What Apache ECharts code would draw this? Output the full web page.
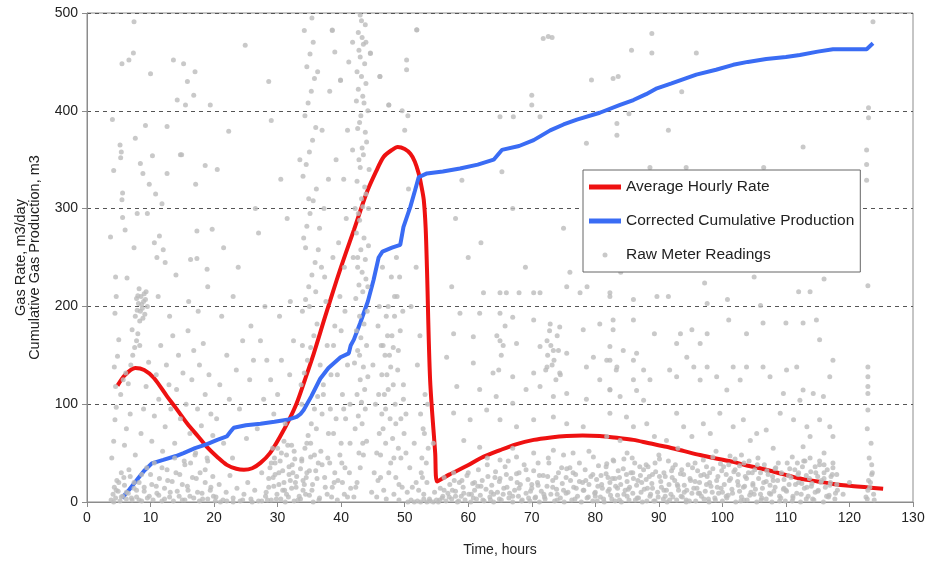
<!DOCTYPE html>
<html>
<head>
    <meta charset="utf-8">
    <title>gas rate</title>
    <script src="https://cdn.jsdelivr.net/npm/echarts@6/dist/echarts.min.js"></script>
    <style>
        html, body { margin: 0; padding: 0; background: #fff; }
        #main { width: 928px; height: 561px; }
    </style>
</head>
<body>
    <div id="main"></div>
<script>
    // axis ticks
    var xTicks = [0, 130, 10];
    var yTicks = [0, 500, 100];

    // average hourly rate (hours, m3/day)
    var rateCurve = [[4.8,119],[6,130],[7.6,137],[9,135],[10.5,127],[12.6,108],[14,96],[15.8,80],[17.5,67],[18.9,56],
        [20.5,46],[22,38],[23.5,34],[24.7,33],[26,34.5],[27.3,40],[28.8,50],[30.4,67],[31.8,84],[33,101],[34.3,125],
        [35.7,152],[37.5,190],[39.3,227],[40.7,254],[42,278],[44,316],[45.5,338],[46.7,353],[48,360],[48.9,363],[50,361],
        [50.9,356],[51.6,348],[52.2,336],[52.6,324],[53,309],[53.3,280],[53.5,240],[54,125],[54.8,50],[55.1,21],[57,28],
        [59.8,37],[62,45],[65,53],[67.5,59],[70.3,63.5],[73,66],[75.5,67.5],[78,68],[80.7,67.5],[83,66],[86,63.5],[88.5,60],
        [91.2,56.5],[94,52],[96.5,48],[99,44.5],[101.7,41],[104,37],[106.9,33],[109.5,28.5],[112.2,24],[115,21],[117.4,18.5],
        [120,16.5],[122.7,15],[125.3,13.5]];

    // corrected cumulative production (hours, m3)
    var cumCurve = [[5.5,4],[6.7,13],[7.9,23],[9,32],[10.2,39.5],[12,43],[14,47],[15.2,50],[17,55],[18.8,59],[20.5,63.5],
        [22,67],[22.6,72],[23.1,76],[25,78.5],[27.3,80],[29.5,82],[31.5,84],[33,87],[33.6,90],[34.1,94],[35.3,108],[36.7,126],
        [38,137],[39.9,148],[41.2,152],[41.5,160],[42,166],[43,183],[44.2,205],[45.1,227],[45.9,250],[46.5,256],[48,260],
        [49.3,263],[49.8,281],[50.9,302],[51.6,318],[52.2,332],[53.5,336],[56,338],[58.7,341],[61.5,345],[64,350],[65.3,360],
        [68,364],[70.3,370],[72.9,380],[75,386],[77.1,391],[80.7,398],[83.9,406],[86,411],[88,417],[89.7,423],[92,428],
        [95.9,437],[99,442],[101.7,447],[104,450],[106.9,453],[110,455],[112.2,457],[115,460.5],[117.4,463],[120,463],
        [122.7,463],[123.7,469]];

    // raw meter readings
    var rawEarly = [[3.8,2],[4.1,8],[4.3,15],[4.5,4],[4.7,22],[4.9,11],[5.2,1],[5.4,30],[5.6,6],[5.9,17],[6.2,3],[6.5,9],
        [6.8,26],[7.1,2],[7.4,14],[7.8,5],[8.2,20],[8.6,1],[9,11],[9.5,4],[10,28],[10.4,2],[10.9,16],[11.3,7],[11.8,35],
        [12.2,3],[12.7,22],[13.1,10],[13.6,1],[14,30],[14.5,6],[15,18],[15.4,2],[15.9,12],[16.3,40],[16.8,4],[17.2,24],
        [17.7,1],[18.1,9],[18.6,33],[19,3],[19.5,15],[19.9,6],
        [3.9,45],[4.2,62],[4.4,84],[4.6,97],[4.5,118],[4.3,138],[4.8,149],[5,166],[4.4,193],[4.6,210],[5.3,110],[5.7,125],
        [6.1,132],[6.5,121],[6.9,140],[7.2,150],[7.5,158],[7.8,165],[8,172],[8.3,160],[7.1,176],[6.8,90],[6.2,75],[5.9,58],
        [7.6,48],[8.5,70],[8.9,95],[9.3,118],[9.7,143],[10.2,62],[10.6,88],[10.9,130],[11.3,105],[11.6,160],[11.9,52],
        [12.3,77],[12.5,140],[12.9,120],[13.2,95],[13.5,170],[13.8,60],[14.1,115],[14.4,150],[14.7,85],[15.1,132],[15.3,42],
        [15.6,100],[15.9,175],[16.2,70],[16.5,125],[16.8,155],[17.1,50],[17.4,95],[17.7,140],[18,78],[18.3,162],[18.6,110],
        [18.9,45],[19.2,130],[19.5,90],[19.8,68],
        [7.6,190],[7.9,196],[8.1,203],[8.3,185],[8.5,210],[8.7,198],[8.9,205],[9.1,192],[9.3,215],[8.2,218],[8.8,188],
        [9.5,200],[7.8,208],[9,213],[8.4,195],[8.6,202],[9.2,207],[8,211],
        [4,391],[4.2,339],[3.7,271],[4.5,230],[5.3,352],[5.4,358],[5.2,365],[5.5,448],[5.6,316],[5.5,309],[5.6,291],[6,278],
        [6.3,229],[6.6,452],[7.3,459],[7.4,491],[7.6,372],[7.4,260],[7.9,295],[8.4,346],[8.8,336],[9.2,385],[9.5,295],
        [9.8,325],[10,438],[10.3,354],[10.6,265],[10.8,315],[11,250],[11.4,272],[11.8,305],[12,258],[12.6,384],[12.6,336],
        [13.6,452],[14.2,411],[14.7,355],[14.9,355],[15.2,448],[15.5,406],[15.8,430],[16.3,248],[16.8,416],[17,440],
        [17.1,325],[17.3,277],[17.3,249],[18.6,344],[18.9,238],[19.4,406],[19.7,279],[14,232],[12.3,245],[16,205],[13,190],
        [11.2,210],[17.5,195],[19,220],
        [20.3,5],[20.8,18],[21.4,2],[21.9,10],[22.5,27],[23,4],[23.6,14],[24.1,1],[24.7,8],[25.3,20],[25.8,3],[26.4,12],
        [27,1],[27.5,30],[28.1,6],[28.6,15],[29,2],[29.3,25],[29.6,40],[29.9,8],[30.2,18],[30.5,3],[30.8,32],[31.1,12],
        [31.4,48],[31.7,5],[32,22],[32.3,38],[32.6,1],[32.9,15],[30,55],[31,62],[32.2,58],[29.5,45],[28.8,35],[31.8,28],
        [32.7,44],
        [20.4,85],[20.9,120],[21.5,60],[22,150],[22.4,105],[22.9,45],[23.5,135],[24,95],[24.5,165],[25.1,65],[25.6,125],
        [26.2,145],[26.8,75],[27.3,165],[27.8,105],[28.3,145],[28.9,125],[29.4,90],[30,110],[30.6,145],[31.2,80],[31.9,130],
        [32.5,165],[21.2,190],[23,210],[25.8,180],[28,200],[30.3,190],[32,205],
        [22.3,379],[24.9,467],[28.6,430],[21.5,260],[26.5,300],[23.8,240],[30.5,330],[27,275],[31.5,290],[20.5,340],[29,390]];

    var rawMid = [[33.6,3],[34,12],[34.5,25],[35,7],[35.5,18],[36,32],[36.5,2],[33.8,42],[34.3,55],[34.8,68],[35.3,80],
        [35.8,95],[36.3,108],[33.7,120],[34.2,132],[34.7,145],[35.2,158],[35.7,170],[36.2,182],[33.9,195],[34.4,207],
        [34.9,220],[35.4,232],[35.9,245],[36.4,258],[34.1,270],[34.6,282],[35.1,295],[35.6,308],[36.1,320],[34,333],
        [34.5,345],[35,358],[35.5,370],[36,383],[34.3,395],[34.8,408],[35.3,420],[35.8,433],[34.6,445],[35.1,458],
        [35.6,470],[34.2,482],[35.4,495],[36.8,52],[36.9,240],[37.3,300],[37.8,160],[38.2,420],[38.6,482],[38.8,70],
        [39.2,350],[39.6,265],[39.9,431],[40.2,110],[40.6,195],[41,380],[41.3,30],[37.5,15],[38.5,5],[39.5,22],[40.5,8],
        [41.5,14],[37,90],[37.6,205],[38,330],[38.4,130],[39,180],[40,60],[40.8,290],[41.2,450],
        [33.8,100],[34.6,30],[35.2,60],[36.1,75],[36.7,140],[37.2,110],[37.9,45],[38.3,95],[38.9,20],[39.4,130],[40.1,40],
        [40.7,85],[41.4,100],[33.9,160],[35,200],[36,215],[37.4,230],[38.7,250],[39.8,210],[40.5,240],[34.4,260],[36.6,280],
        [33.5,350],[34.9,310],[36.3,440],[37,380],[39,460],[40.4,330],
        [42,5],[42.5,20],[43,35],[43.5,48],[44,62],[42.2,75],[42.7,88],[43.2,102],[43.7,115],[44.2,128],[42.1,142],
        [42.6,155],[43.1,168],[43.6,182],[44.1,195],[42.3,208],[42.8,222],[43.3,235],[43.8,248],[44.3,262],[42.4,275],
        [42.9,288],[43.4,302],[43.9,315],[42.5,328],[43,342],[43.5,355],[44,368],[42.6,382],[43.1,395],[43.6,408],
        [42.7,422],[43.2,435],[43.7,448],[42.8,462],[43.3,475],[43.8,488],[43,498],[42.4,410],[43.9,470],[42.2,300],
        [44.4,340],[44.6,459],[42.9,150],[43.4,60],[42.6,250],
        [44.8,10],[45.2,30],[45.6,50],[46,70],[46.4,90],[46.8,110],[47.2,130],[47.6,150],[48,170],[48.4,190],[48.8,210],
        [49.2,230],[49.6,15],[45,140],[45.4,100],[45.8,180],[46.2,25],[46.6,160],[47,60],[47.4,200],[47.8,40],[48.2,120],
        [48.6,80],[49,155],[49.4,45],[49.8,105],[46.1,435],[47.5,406],[46.5,240],[47.9,230],[48.7,250],[45.6,5],[47.1,3],
        [48.3,8],[49.1,2],
        [50.3,452],[50.3,442],[51.9,483],[50,380],[50.5,395],[49.6,400],[50.6,320],[51,200],[50.2,90],[51.5,60],[52,140],
        [52.6,30],[52.9,75],[53.2,110],[53,8],[52.7,45],[53.5,20],[53.9,3],[51.2,15],[50.8,35],[51.8,240],[52.4,170],
        [54.5,60],[54.7,10]];

    var rawLate = [[55.5,2],[56.2,12],[57,5],[57.8,22],[58.5,1],[59.3,9],[60,30],[60.8,4],[61.5,16],[62.3,2],[63,38],
        [63.6,10],[64.2,25],[64.9,3],[65.6,14],[66.3,42],[67,6],[67.7,20],[68.4,1],[69.1,33],[69.8,11],[70.5,4],[71.2,27],
        [71.9,8],[72.6,45],[73.3,15],[74,2],[74.7,35],[75.4,9],[76.1,22],[76.8,3],[77.5,40],[78.2,12],[78.9,5],[79.6,28],
        [80.3,1],[81,18],[81.7,36],[82.4,7],[83.1,24],[83.8,2],[84.5,44],[85.2,13],[85.9,30],[86.6,4],[87.3,20],[88,38],
        [88.7,8],[89.4,1],[90.1,26],[90.8,12],[91.5,42],[92.2,5],[92.9,18],[93.6,33],[94.3,2],[95,22],[95.7,40],[96.4,9],
        [97.1,28],[97.8,3],[98.5,46],[99.2,15],[99.9,32],[100.6,6],[101.3,24],[102,44],[102.7,11],[103.4,2],[104.1,30],
        [104.8,17],[105.5,38],[106.2,4],[106.9,21],[107.6,8],[108.3,34],[109,1],[109.7,14],[110.4,27],[111.1,6],[111.8,40],
        [112.5,19],[113.2,3],[113.9,31],[114.6,10],[115.3,42],[116,24],[116.7,5],[117.4,35],[118.1,12],[122.8,3],[123.2,15],
        [123.5,28],[123.8,8],
        [58,6],[61,20],[64,8],[66,28],[68,14],[70,18],[72,5],[73.8,25],[75,12],[76.5,30],[78,20],[80,10],[82,25],[83.5,14],
        [85,6],[86,24],[87,36],[88.2,14],[89,28],[91,6],[92,32],[94,10],[96,14],[97.5,36],[98,20],[100,10],[101,38],
        [102.5,28],[103.5,16],[105,8],[106,30],[108,22],[110,12],[112,30],[113,42],[114,16],[115,26],[116,38],[117,20],
        [118,28],[123,22],[123.5,38],
        [57.4,220],[62.4,214],[65,214],[66,214],[68,214],[70.3,214],[71.3,214],[75.5,220],[77.6,214],[78.7,220],[82.3,214],
        [58.7,193],[61.8,193],[65,193],[67,189],[70.3,186],[72.9,182],[74.4,179],[78.1,176],[80.7,182],[82.8,176],
        [57.7,172],[60.8,169],[65,165],[67.6,162],[71.3,159],[72.4,165],[73.4,155],[75.5,152],[79.7,148],[81.8,145],
        [56.6,148],[60.8,142],[63.9,132],[67,128],[70.3,132],[72.4,138],[74.4,132],[78.6,138],[80.7,125],[83.3,135],
        [58.2,118],[61.8,115],[64.4,108],[67,101],[69.1,115],[71.3,118],[73.4,108],[75.5,111],[78.6,105],[82.3,115],
        [57.7,91],[60.3,84],[62.9,94],[65,84],[67.6,77],[70.3,84],[73.4,87],[75.5,80],[78.1,77],
        [59.3,63],[61.8,56],[65,43],[67.6,46],[70.3,50],[73.4,53],[76.5,50],[79.7,46],[82.8,43],
        [72.5,150],[73,160],[73.5,145],[74,170],[74.5,130],[72.8,175],[73.8,125],[74.2,155],[72.2,135],[73.2,140],
        [64.5,170],[65.2,150],[65.8,180],[64.8,135],[65.5,160],
        [82.3,210],[86,207],[89.7,210],[91.5,210],[97.2,224],[97.6,203],[100.8,207],[106,201],[112,215],[113.8,215],
        [122.9,221],[82.8,186],[86,186],[89.3,172],[93.4,172],[95.2,176],[97.6,172],[101,186],[103.8,172],[106.4,183],
        [110,183],[112.7,183],[114.8,186],[115.3,166],[82.3,159],[84.4,155],[86.5,152],[92.8,162],[96.5,162],
        [82.3,145],[83.4,138],[86,145],[87.6,135],[88.6,125],[86,125],[86.5,114],[87.6,104],[91.7,135],[92.8,128],
        [94.4,148],[95.5,138],[96.5,124.7],[97.6,138],[99.1,128],[100.7,114.5],[101.7,138],[102.8,124.7],[103.8,138],
        [106.4,138],[107.5,128],[110.1,135],[111.7,138],[112.7,114.5],[114.3,111],[115.9,108],[116.9,128],[117.4,145],
        [122.9,138],[122.9,128],[122.9,118],[122.9,111],[109.6,111],[112.2,104],[82.3,114.5],[83.9,108],
        [82.3,90.7],[84.9,87],[86,77],[88.1,80],[89.3,67],[92.8,90.7],[93.9,77],[97,80],[98.1,70],[99.6,90.7],[101.7,77],
        [103.3,84],[105.4,70],[106.9,73.5],[109.1,90.7],[111.2,84],[113.3,77],[115.3,84],[116.9,77],[117.4,67],[122.9,94],
        [81.8,67],[83.9,63],[91.2,63],[95.2,67],[104.4,63],[112.7,56.6],[113.8,67],
        [85,50],[90,48],[93,55],[99,52],[103,48],[108,55],[111,46],[116,50],[120,20],[119,8],
        [71.8,474],[73.2,475],[72.6,476],[85.7,462],[88.9,479],[88.9,459],[95.9,459],[83.6,435],[93.6,419.5],[91.5,380],
        [83.4,387],[83.4,375],[85.3,397],[112.7,363],[122.7,360],[122.7,345],[122.7,329],[123,403],[123,393],[123.7,491],
        [88.6,342],[94.3,342],[106.5,342],[79.4,431.5],[82.8,433],[70,416],[70,406],[78.6,366.7],[65,394],[67.1,394],
        [71.3,394],[65.3,337.7],[59,329],[51.9,482.6],[46.1,435],[44.6,458.7],[39.9,431.5],[38.6,482.6],[47.5,406],
        [58,290],[62,265],[67,300],[75,280],[80,255],[87,270],[90,300],[96,260],[100,290],[104,270],[108,310],[113,265],
        [118,290],[121,250],[60,250],[84,235],[92,240],[105,230],[110,240],[116,228],[69,240],[76,235]];

    // extra readings in the crowded low band and the dense columns
    var rawBand = [[55.3,0],[55.6,14],[55.9,4],[56.2,25],[56.5,1],[56.8,9],[57.1,18],[57.4,3],[57.7,30],[58,11],[58.3,0],
        [58.6,20],[58.9,6],[59.2,15],[59.5,2],[59.8,27],[60.1,8],[60.4,0],[60.7,19],[61,12],[61.3,3],[61.6,33],[61.9,7],
        [62.2,22],[62.5,1],[62.8,13],[63.1,26],[63.4,5],[63.7,17],[64,0],[64.3,31],[64.6,10],[64.9,21],[65.2,2],[65.5,8],
        [65.8,36],[66.1,15],[66.4,4],[66.7,24],[67,0],[67.3,12],[67.6,29],[67.9,6],[68.2,18],[68.5,2],[68.8,38],[69.1,9],
        [69.4,23],[69.7,1],[70,14],[70.3,32],[70.6,5],[70.9,20],[71.2,0],[71.5,11],[71.8,27],[72.1,3],[72.4,16],[72.7,40],
        [73,8],[73.3,22],[73.6,1],[73.9,13],[74.2,30],[74.5,4],[74.8,19],[75.1,0],[75.4,25],[75.7,10],[76,35],[76.3,2],
        [76.6,15],[76.9,28],[77.2,6],[77.5,21],[77.8,0],[78.1,12],[78.4,33],[78.7,4],[79,18],[79.3,26],[79.6,1],[79.9,9],
        [80.2,23],[80.5,37],[80.8,5],[81.1,14],[81.4,0],[81.7,29],[82,11],[82.3,20],[82.6,3],[82.9,42],[83.2,16],[83.5,7],
        [83.8,25],[84.1,0],[84.4,34],[84.7,12],[85,21],[85.3,2],[85.6,30],[85.9,9],[86.2,40],[86.5,17],[86.8,4],[87.1,27],
        [87.4,0],[87.7,13],[88,23],[88.3,36],[88.6,6],[88.9,19],[89.2,1],[89.5,31],[89.8,10],[90.1,44],[90.4,15],[90.7,3],
        [91,26],[91.3,0],[91.6,18],[91.9,8],[92.2,35],[92.5,22],[92.8,2],[93.1,12],[93.4,29],[93.7,5],[94,17],[94.3,0],
        [94.6,38],[94.9,24],[95.2,9],[95.5,14],[95.8,1],[96.1,32],[96.4,20],[96.7,6],[97,43],[97.3,11],[97.6,26],[97.9,0],
        [98.2,16],[98.5,34],[98.8,4],[99.1,22],[99.4,9],[99.7,39],[100,1],[100.3,18],[100.6,28],[100.9,7],[101.2,47],
        [101.5,13],[101.8,31],[102.1,0],[102.4,21],[102.7,37],[103,5],[103.3,15],[103.6,26],[103.9,2],[104.2,42],[104.5,10],
        [104.8,19],[105.1,33],[105.4,0],[105.7,24],[106,8],[106.3,14],[106.6,38],[106.9,3],[107.2,28],[107.5,17],[107.8,0],
        [108.1,11],[108.4,35],[108.7,22],[109,6],[109.3,30],[109.6,13],[109.9,1],[110.2,40],[110.5,18],[110.8,25],[111.1,4],
        [111.4,33],[111.7,9],[112,20],[112.3,0],[112.6,36],[112.9,14],[113.2,27],[113.5,6],[113.8,45],[114.1,19],[114.4,2],
        [114.7,30],[115,11],[115.3,38],[115.6,22],[115.9,0],[116.2,15],[116.5,33],[116.8,7],[117.1,26],[117.4,40],[117.7,3],
        [118,18],
        [80,6],[80.4,16],[80.9,27],[81.3,3],[81.8,39],[82.2,13],[82.7,24],[83.1,1],[83.6,32],[84,18],[84.5,8],[84.9,28],
        [85.4,15],[85.8,45],[86.3,2],[86.7,22],[87.2,10],[87.6,33],[88.1,1],[88.5,26],[89,14],[89.4,40],[89.9,5],[90.3,21],
        [90.8,30],[91.2,12],[91.7,2],[92.1,25],[92.6,38],[93,16],[93.5,6],[93.9,28],[94.4,12],[94.8,1],[95.3,35],[95.7,21],
        [96.2,9],[96.6,27],[97.1,3],[97.5,18],[98,30],[98.4,10],[98.9,2],[99.3,26],[99.8,14],[100.2,36],[100.7,4],[101.1,22],
        [101.6,9],[102,33],[102.5,17],[102.9,1],[103.4,40],[103.8,24],[104.3,7],[104.7,30],[105.2,13],[105.6,45],[106.1,2],
        [106.5,20],[107,32],[107.4,9],[107.9,26],[108.3,15],[108.8,40],[109.2,4],[109.7,23],[110.1,11],[110.6,34],[111,1],
        [111.5,18],[111.9,28],[112.4,8],[112.8,42],[113.3,15],[113.7,24],[114.2,3],[114.6,36],[115.1,12],[115.5,20],[116,30],
        [116.4,6],[116.9,17],[117.3,28],[117.8,9],
        [56,6],[57.5,12],[59,22],[60.5,8],[62,16],[63.5,2],[65,24],[66.5,9],[68,30],[69.5,4],[71,17],[72.5,26],[74,8],
        [75.5,34],[77,14],[78.5,22],[63,45],[67,55],[71,40],[75,48],[79,52],
        [122.6,5],[122.9,12],[123.3,20],[123.6,30],[123.9,2],[123.1,45],[123.4,60],[122.8,75],
        [4.2,0],[4.6,12],[5,20],[5.4,5],[5.8,25],[6.2,10],[6.6,33],[7,4],[7.4,20],[7.8,12],[8.2,2],[8.6,28],[9,15],[9.4,35],
        [9.8,6],[10.2,18],[10.6,40],[11,9],[11.4,24],[11.8,1],[12.2,14],[12.6,33],[13,5],[13.4,21],[13.8,45],[14.2,11],
        [14.6,28],[15,2],[15.4,38],[15.8,16],[16.2,6],[16.6,25],[17,48],[17.4,10],[17.8,30],[18.2,3],[18.6,20],[19,42],
        [19.4,12],[19.8,26],[20.2,1],[21,0],[22,1],[23,0],[24.5,2],[26,0],[27.5,1],
        [28.2,10],[28.6,24],[29,40],[29.4,16],[29.8,3],[30.2,30],[30.6,50],[31,20],[31.4,8],[31.8,36],[32.2,14],[32.6,52],
        [33,26],[33.4,6],[33.8,44],[34.2,18],[34.6,60],[35,32],[35.4,12],[35.8,48],[36.2,24],[36.6,4],[37,38],[29.2,55],
        [30.8,12],[31.6,58],[32.4,30],[33.2,2],[34,22],[35.6,0],[36.4,40],[28.4,2],[29.6,28],[30.4,42],[31.2,0],[32.8,20],
        [33.6,34],[34.4,8],[35.2,46],
        [37.4,25],[37.8,8],[38.2,40],[38.6,15],[39,30],[39.4,2],[39.8,48],[40.2,20],[40.6,35],[41,5],[41.4,60],[38,70],
        [39.2,85],[40.4,95],[37.2,120],[38.8,160],[40,175],[41,140],
        [42.3,15],[42.8,50],[43.3,80],[43.8,95],[42.5,110],[43,125],[43.5,138],[44,160],[42.4,175],[42.9,190],[43.4,215],
        [43.9,228],[42.6,240],[43.1,258],[43.6,270],[42.7,295],[43.2,310],[43.7,322],[42.8,350],[43.3,362],[43.8,378],
        [42.9,388],[43.4,415],[43.9,428],[42.5,440],[43,455],[43.5,468],[42.7,480],[43.2,492],[44.2,400],[44.3,300],
        [44.2,220],[41.8,360],[41.9,250],[41.8,470],
        [45.8,22],[46.2,48],[46.6,75],[47,95],[47.4,115],[47.8,138],[48.2,158],[48.6,25],[49,55],[49.4,85],[49.8,120],
        [46.4,130],[46.9,150],[47.3,170],[47.7,85],[48.1,65],[48.5,100],[48.9,135],[49.3,175],[49.7,195],[46,200],[46.7,12],
        [47.5,30],[48.3,45],[49.1,18],[49.9,70],[50.2,50],[50.4,10],[45.9,110],[47.1,190],[48.4,210],[46.3,160],
        [50.5,0],[51,2],[51.5,0],[52,1],[52.5,0],[53,3],[53.5,0],[54,1],[54.5,0],[55,2],[52.2,12],[52.8,25],[53.4,40],
        [53.7,55],[53.1,70],[52.5,90],[53.6,100],[51.8,20]];

    var rawReadings = rawEarly.concat(rawMid, rawLate, rawBand);

    var font = 'Liberation Sans, Arial, sans-serif';
    var chart = echarts.init(document.getElementById('main'));
    chart.setOption({
        backgroundColor: '#fff',
        animation: false,
        grid: {
            left: 87, right: 15, top: 13, bottom: 59,
            outerBoundsMode: 'none',
            show: true, borderColor: '#8c8c8c', borderWidth: 1
        },
        legend: {
            orient: 'vertical',
            left: 583, top: 170,
            padding: [9, 6, 9, 6],
            itemGap: 18,
            itemWidth: 32,
            itemHeight: 5,
            backgroundColor: '#fff',
            borderColor: '#666',
            borderWidth: 1,
            textStyle: { fontFamily: font, fontSize: 15.5, color: '#222' },
            data: [
                { name: 'Average Hourly Rate', icon: 'rect' },
                { name: 'Corrected Cumulative Production', icon: 'rect' },
                { name: 'Raw Meter Readings', icon: 'circle' }
            ]
        },
        xAxis: {
            type: 'value',
            min: xTicks[0], max: xTicks[1], interval: xTicks[2],
            name: 'Time, hours',
            nameLocation: 'middle',
            nameGap: 41,
            nameTextStyle: { fontFamily: font, fontSize: 14, color: '#222' },
            axisLine: { lineStyle: { color: '#8c8c8c' } },
            axisTick: { length: 5, lineStyle: { color: '#8c8c8c' } },
            axisLabel: { fontFamily: font, fontSize: 14, color: '#222', margin: 9 },
            splitLine: { show: false }
        },
        yAxis: {
            type: 'value',
            min: yTicks[0], max: yTicks[1], interval: yTicks[2],
            name: 'Gas Rate, m3/day\nCumulative Gas Production, m3',
            nameLocation: 'middle',
            nameGap: 45,
            nameTextStyle: { fontFamily: font, fontSize: 14.5, color: '#222', lineHeight: 14 },
            axisLine: { show: true, lineStyle: { color: '#8c8c8c' } },
            axisTick: { show: true, length: 5, lineStyle: { color: '#8c8c8c' } },
            axisLabel: { fontFamily: font, fontSize: 14, color: '#222', margin: 9 },
            splitLine: { lineStyle: { color: '#555', type: [4, 4], width: 1 } }
        },
        series: [
            {
                name: 'Average Hourly Rate',
                type: 'line',
                data: rateCurve,
                smooth: 0.3,
                symbol: 'none',
                lineStyle: { color: '#ee1111', width: 4 },
                itemStyle: { color: '#ee1111' },
                z: 2
            },
            {
                name: 'Corrected Cumulative Production',
                type: 'line',
                data: cumCurve,
                symbol: 'none',
                lineStyle: { color: '#3a6cf4', width: 4 },
                itemStyle: { color: '#3a6cf4' },
                z: 2
            },
            {
                name: 'Raw Meter Readings',
                type: 'scatter',
                data: rawReadings,
                symbol: 'circle',
                symbolSize: 5,
                itemStyle: { color: '#bcbcbc' },
                z: 3
            }
        ]
    });
</script>
</body>
</html>
